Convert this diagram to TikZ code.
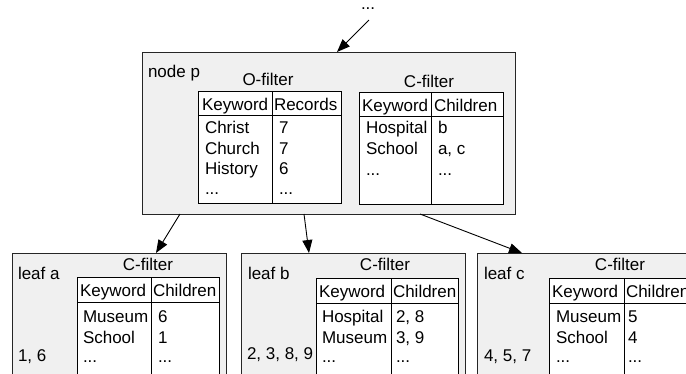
\documentclass[tikz,border=0pt]{standalone}
\usepackage{fontspec}
\setmainfont{Liberation Sans}
\usetikzlibrary{arrows.meta}
\begin{document}
\begin{tikzpicture}[x=1pt,y=-1pt,
  font=\fontsize{17}{20}\selectfont,
  panel/.style={draw=black!85,fill=black!6,line width=0.8pt,rectangle,
    anchor=north west,inner sep=0pt,outer sep=0pt},
  tbl/.style={draw=black,fill=white,line width=0.8pt,rectangle,
    anchor=north west,inner sep=0pt,outer sep=0pt},
  txt/.style={anchor=base west,inner sep=0pt,outer sep=0pt},
  ttl/.style={anchor=base,inner sep=0pt,outer sep=0pt},
  rule/.style={draw=black,line width=0.8pt},
  arr/.style={draw=black,line width=0.9pt,-{Triangle[length=13pt,width=10pt]}}]

\useasboundingbox (0,0) rectangle (686,373);
\clip (0,0) rectangle (686,373);

% ---------- inner node p ----------
\node[txt] (dots) at (361,9) {...};
\coordinate (from) at (369,20);
\node[panel,minimum width=373pt,minimum height=162pt] (p) at (142,52) {};
\node[txt] (plabel) at (148,77) {node p};

% O-filter of p
\node[tbl,minimum width=143pt,minimum height=112pt] (po) at (198,91) {};
\draw[rule] ([yshift=-24pt]po.north west) -- ([yshift=-24pt]po.north east);
\draw[rule] ([xshift=74pt]po.north west) -- ([xshift=74pt]po.south west);
\node[ttl] (pot) at (268,85) {O-filter};
\node[txt] (po1) at (202,110) {Keyword};
\node[txt] (po2) at (274,110) {Records};
\node[txt] (po3) at (205,133) {Christ};
\node[txt] (po4) at (205,154) {Church};
\node[txt] (po5) at (205,174) {History};
\node[txt] (po6) at (205,194) {...};
\node[txt] (po7) at (279,133) {7};
\node[txt] (po8) at (279,154) {7};
\node[txt] (po9) at (279,174) {6};
\node[txt] (po10) at (279,194) {...};

% C-filter of p
\node[tbl,minimum width=144pt,minimum height=112pt] (pc) at (359,92) {};
\draw[rule] ([yshift=-24pt]pc.north west) -- ([yshift=-24pt]pc.north east);
\draw[rule] ([xshift=72pt]pc.north west) -- ([xshift=72pt]pc.south west);
\node[ttl] (pct) at (429,87) {C-filter};
\node[txt] (pc1) at (362,111) {Keyword};
\node[txt] (pc2) at (434,111) {Children};
\node[txt] (pc3) at (366,133) {Hospital};
\node[txt] (pc4) at (366,154) {School};
\node[txt] (pc5) at (366,175) {...};
\node[txt] (pc6) at (438,133) {b};
\node[txt] (pc7) at (438,154) {a, c};
\node[txt] (pc8) at (438,175) {...};

% ---------- leaf a ----------
\node[panel,minimum width=214pt,minimum height=140pt] (a) at (12,253) {};
\node[txt] (alabel) at (18,279) {leaf a};
\node[txt] (aids) at (18,361) {1, 6};
\node[tbl,minimum width=142pt,minimum height=110pt] (ac) at (77,277) {};
\draw[rule] ([yshift=-25pt]ac.north west) -- ([yshift=-25pt]ac.north east);
\draw[rule] ([xshift=74pt]ac.north west) -- ([xshift=74pt]ac.south west);
\node[ttl] (act) at (148,270) {C-filter};
\node[txt] (ac1) at (80,296) {Keyword};
\node[txt] (ac2) at (153,296) {Children};
\node[txt] (ac3) at (83,322) {Museum};
\node[txt] (ac4) at (83,343) {School};
\node[txt] (ac5) at (83,362) {...};
\node[txt] (ac6) at (158,322) {6};
\node[txt] (ac7) at (158,343) {1};
\node[txt] (ac8) at (158,362) {...};

% ---------- leaf b ----------
\node[panel,minimum width=224pt,minimum height=140pt] (b) at (241,253) {};
\node[txt] (blabel) at (248,279) {leaf b};
\node[txt] (bids) at (247,359) {2, 3, 8, 9};
\node[tbl,minimum width=142pt,minimum height=110pt] (bc) at (316,278) {};
\draw[rule] ([yshift=-25pt]bc.north west) -- ([yshift=-25pt]bc.north east);
\draw[rule] ([xshift=75pt]bc.north west) -- ([xshift=75pt]bc.south west);
\node[ttl] (bct) at (385,270) {C-filter};
\node[txt] (bc1) at (319,297) {Keyword};
\node[txt] (bc2) at (393,297) {Children};
\node[txt] (bc3) at (322,322) {Hospital};
\node[txt] (bc4) at (322,343) {Museum};
\node[txt] (bc5) at (322,362) {...};
\node[txt] (bc6) at (396,322) {2, 8};
\node[txt] (bc7) at (396,343) {3, 9};
\node[txt] (bc8) at (396,362) {...};

% ---------- leaf c ----------
\node[panel,minimum width=214pt,minimum height=140pt] (c) at (477,253) {};
\node[txt] (clabel) at (484,279) {leaf c};
\node[txt] (cids) at (484,361) {4, 5, 7};
\node[tbl,minimum width=142pt,minimum height=110pt] (cc) at (549,278) {};
\draw[rule] ([yshift=-25pt]cc.north west) -- ([yshift=-25pt]cc.north east);
\draw[rule] ([xshift=75pt]cc.north west) -- ([xshift=75pt]cc.south west);
\node[ttl] (cct) at (620,270) {C-filter};
\node[txt] (cc1) at (552,297) {Keyword};
\node[txt] (cc2) at (626,297) {Children};
\node[txt] (cc3) at (556,322) {Museum};
\node[txt] (cc4) at (556,343) {School};
\node[txt] (cc5) at (556,362) {...};
\node[txt] (cc6) at (628,322) {5};
\node[txt] (cc7) at (628,343) {4};
\node[txt] (cc8) at (628,362) {...};

% ---------- pointers ----------
\draw[arr] (from) -- ([xshift=195pt]p.north west);
\draw[arr] ([xshift=38pt]p.south west) -- ([xshift=144pt]a.north west);
\draw[arr] ([xshift=162pt]p.south west) -- ([xshift=68pt]b.north west);
\draw[arr] ([xshift=278pt]p.south west) -- ([xshift=45pt]c.north west);
\end{tikzpicture}
\end{document}
